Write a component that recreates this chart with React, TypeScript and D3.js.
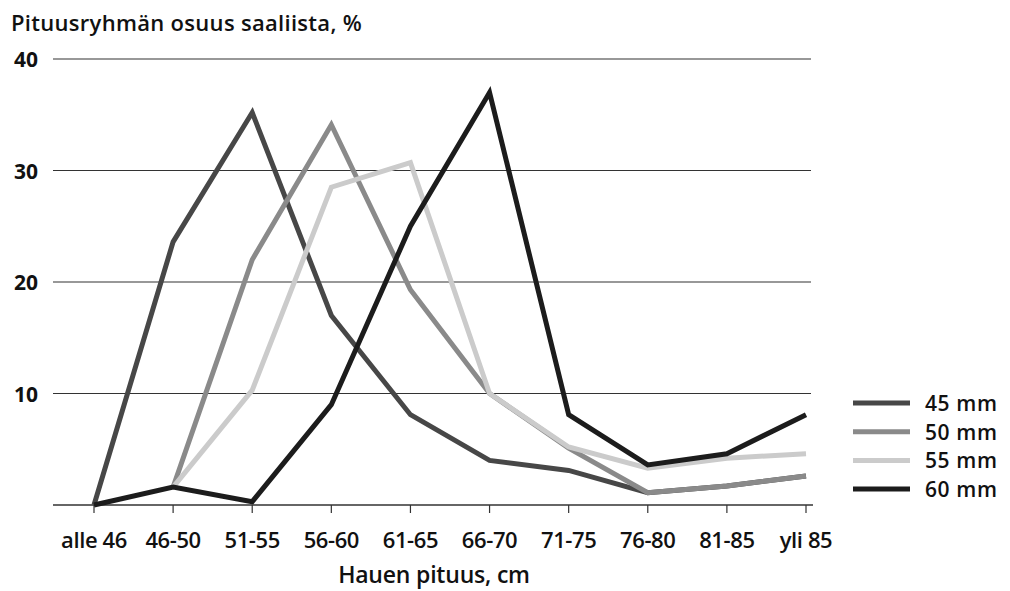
import React from "react";
import * as d3 from "d3";

const categories = ["alle 46", "46-50", "51-55", "56-60", "61-65", "66-70", "71-75", "76-80", "81-85", "yli 85"];
const yTicks = [10, 20, 30, 40];
const s45: (number | null)[] = [0, 23.6, 35.2, 17.0, 8.1, 4.0, 3.1, 1.1, 1.7, 2.6];
const s50: (number | null)[] = [null, 1.6, 22.0, 34.1, 19.3, 10.0, 5.1, 1.1, 1.7, 2.6];
const s55: (number | null)[] = [null, 1.6, 10.3, 28.5, 30.7, 10.0, 5.2, 3.3, 4.2, 4.6];
const s60: (number | null)[] = [0, 1.6, 0.3, 9.0, 25.0, 37.0, 8.1, 3.6, 4.6, 8.1];
const seriesNames = ["45 mm", "50 mm", "55 mm", "60 mm"];
const seriesColors = ["#474747", "#8a8a8a", "#cbcbcb", "#1c1c1c"];
const seriesData = [s45, s50, s55, s60];

const FONT = "'Open Sans', Lato, sans-serif";

export default function App() {
  const x = d3.scalePoint<string>().domain(categories).range([94, 806]);
  const y = d3.scaleLinear().domain([0, 40]).range([505, 59]);
  const line = d3
    .line<number | null>()
    .defined((d) => d !== null)
    .x((_, i) => x(categories[i]) as number)
    .y((d) => y(d as number));

  return (
    <svg width={1010} height={591} style={{ position: "absolute", left: 0, top: 0, background: "#fff" }}>
      <text x={11} y={31} fontFamily={FONT} fontWeight={600} fontSize={22} fill="#111" letterSpacing={0.3}>
        Pituusryhmän osuus saaliista, %
      </text>
      {yTicks.map((t) => (
        <g key={t}>
          <line x1={53} x2={811} y1={y(t)} y2={y(t)} stroke="#333" strokeWidth={1.2} />
          <text x={38} y={y(t) + 8} textAnchor="end" fontFamily={FONT} fontWeight={700} fontSize={21} fill="#111">
            {t}
          </text>
        </g>
      ))}
      <line x1={53} x2={813} y1={y(0)} y2={y(0)} stroke="#333" strokeWidth={1.5} />
      {categories.map((c) => (
        <g key={c}>
          <line x1={x(c)} x2={x(c)} y1={y(0)} y2={y(0) + 8} stroke="#333" strokeWidth={1.2} />
          <text x={x(c)} y={548} textAnchor="middle" fontFamily={FONT} fontWeight={600} fontSize={22} fill="#111" letterSpacing={-0.4}>
            {c}
          </text>
        </g>
      ))}
      <text x={434} y={583} textAnchor="middle" fontFamily={FONT} fontWeight={600} fontSize={23} fill="#111" letterSpacing={-0.2}>
        Hauen pituus, cm
      </text>
      {seriesData.map((s, i) => (
        <path key={i} d={line(s) || ""} fill="none" stroke={seriesColors[i]} strokeWidth={5} strokeLinejoin="miter" strokeMiterlimit={3} />
      ))}
      {seriesNames.map((n, i) => (
        <g key={n} transform={`translate(0, ${403 + i * 28.7})`}>
          <line x1={853} x2={910} y1={0} y2={0} stroke={seriesColors[i]} strokeWidth={5} />
          <text x={925} y={8} fontFamily={FONT} fontWeight={600} fontSize={21} fill="#111" letterSpacing={0.6}>
            {n}
          </text>
        </g>
      ))}
    </svg>
  );
}
